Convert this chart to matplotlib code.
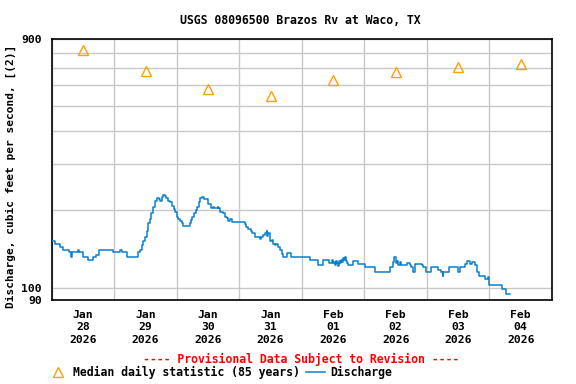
import matplotlib
matplotlib.use("Agg")
import matplotlib.pyplot as plt
from matplotlib.lines import Line2D
import numpy as np

# Discharge (hours since 2026-01-28 00:00, cfs) - step series
hours = [0, 1.25, 3.25, 4.5, 6.75, 7.5, 7.75, 10.25, 10.5, 12.0, 14.0, 15.75, 17.0, 18.0,
         23.5, 26.25, 27.0, 29.0, 33.0, 33.75, 34.5, 35.0, 35.75, 36.5, 37.0, 37.75, 38.25,
         39.0, 39.5, 40.25, 41.0, 41.5, 42.25, 42.75, 43.5, 44.0, 44.75, 45.5, 46.0, 46.75,
         47.25, 48.0, 48.5, 49.25, 50.0, 50.5, 53.0, 53.5, 54.0, 54.5, 55.25, 55.75, 56.5,
         57.0, 57.5, 58.0, 58.5, 60.0, 61.0, 62.0, 62.25, 63.75, 64.0, 64.5, 65.75, 66.5,
         67.25, 67.75, 68.5, 69.0, 71.0, 74.25, 74.75, 75.5, 76.5, 77.0, 78.0, 80.0, 80.5,
         81.25, 81.75, 82.5, 82.75, 83.0, 83.75, 84.5, 85.0, 85.75, 86.25, 87.0, 87.5, 88.25,
         88.75, 90.25, 91.75, 99.0, 102.25, 104.0, 106.5, 107.5, 108.0, 108.5, 108.75, 109.25,
         109.5, 110.0, 110.25, 110.75, 111.0, 111.5, 111.75, 112.25, 112.5, 113.0, 113.5,
         113.75, 115.75, 117.5, 120.25, 124.0, 129.75, 131.0, 131.5, 132.0, 132.5, 133.0,
         133.5, 134.0, 136.25, 137.5, 138.0, 138.75, 139.5, 142.0, 142.5, 143.5, 145.5, 148.25,
         149.25, 150.0, 150.25, 152.5, 156.0, 156.75, 158.5, 159.5, 160.5, 161.25, 162.5,
         163.25, 164.0, 166.25, 167.5, 168.0, 172.75, 174.25, 176.0]
discharge = [152, 148, 144, 140, 137, 131, 137, 140, 137, 132, 128, 131, 134, 140,
             137, 140, 137, 131, 137, 140, 146, 151, 157, 165, 177, 184, 194,
             205, 216, 221, 219, 216, 224, 228, 226, 221, 216, 213, 207, 201,
             196, 188, 184, 181, 178, 173, 177, 182, 188, 194, 199, 205, 214,
             221, 223, 223, 220, 211, 202, 205, 202, 205, 202, 195, 194, 188,
             185, 181, 184, 180, 179, 176, 172, 168, 166, 162, 157, 154, 157,
             160, 163, 165, 158, 162, 151, 153, 148, 146, 148, 144, 140, 135,
             131, 136, 131, 128, 123, 128, 124.5, 128, 124.5, 126, 123, 127,
             124.5, 121.5, 127, 124.5, 128, 126, 130, 128, 131, 127, 124.5,
             123, 127.4, 123.5, 120, 115, 120, 126, 131, 124.5, 127, 123,
             126, 122.5, 124.5, 122.5, 120, 115, 123.5, 122.5, 120, 115, 120, 117,
             115, 111, 115, 120, 115, 120, 123.5, 127.4, 123.5, 126, 122.5,
             115, 111.3, 108, 110.6, 102.8, 99.2, 95, 95]

# Median daily statistic (85 years), one per day at noon
median_days = [0.5, 1.5, 2.5, 3.5, 4.5, 5.5, 6.5, 7.5]
median_cfs = [822, 683, 578, 544, 626, 672, 703, 722]

day_labels = ["Jan\n28\n2026", "Jan\n29\n2026", "Jan\n30\n2026", "Jan\n31\n2026",
              "Feb\n01\n2026", "Feb\n02\n2026", "Feb\n03\n2026", "Feb\n04\n2026"]
ytick_vals = [90, 100, 200, 300, 400, 500, 600, 700, 800, 900]
ytick_labels = ["90", "100", "", "", "", "", "", "", "", "900"]

FONT = "DejaVu Sans Mono"
plt.rcParams["font.family"] = [FONT]
plt.rcParams["font.weight"] = "bold"

fig = plt.figure(figsize=(5.76, 3.84), dpi=100)
ax = fig.add_axes([0.0898, 0.2188, 0.9583 - 0.0898, 0.8977 - 0.2188])

days = np.array(hours) / 24.0
ax.plot(days, discharge, drawstyle="steps-post", color="#0a7fd0", lw=1.1, zorder=3)
ax.plot(median_days, median_cfs, linestyle="none", marker="^", ms=7.5,
        mfc="none", mec="#ffa000", mew=1.0, zorder=4)

ax.set_yscale("log")
ax.set_ylim(90, 900)
ax.set_xlim(0, 8)
ax.set_yticks(ytick_vals)
ax.set_yticklabels(ytick_labels)
ax.yaxis.set_minor_locator(matplotlib.ticker.NullLocator())
ax.set_xticks(np.arange(0, 9))
ax.set_xticklabels([])
ax.set_xticks(median_days, minor=True)
ax.set_xticklabels(day_labels, minor=True)
ax.tick_params(axis="both", which="both", length=0)
ax.tick_params(axis="x", which="minor", pad=7, labelsize=8.2)
ax.tick_params(axis="y", which="major", pad=7, labelsize=8.2)
for lab in ax.get_xticklabels(minor=True):
    lab.set_linespacing(1.3)
    lab.set_fontweight("bold")
for lab in ax.get_yticklabels():
    lab.set_fontweight("bold")

ax.grid(True, which="major", color="#c8c8c8", lw=1.0, zorder=0)
for s in ax.spines.values():
    s.set_linewidth(1.2)
    s.set_color("black")

fig.text(11 / 576, 1 - 176 / 384, "Discharge, cubic feet per second, [(2)]",
         rotation=90, ha="center", va="center", fontsize=8.0, fontweight="bold")
fig.text(0.522, 1 - 20.5 / 384, "USGS 08096500 Brazos Rv at Waco, TX",
         ha="center", va="center", fontsize=8.3, fontweight="bold")
fig.text(0.522, 1 - 359 / 384, "---- Provisional Data Subject to Revision ----",
         ha="center", va="center", fontsize=8.3, fontweight="bold", color="#ff0000")

handles = [Line2D([], [], linestyle="none", marker="^", ms=7.5, mfc="none",
                  mec="#ffa000", mew=1.0),
           Line2D([], [], color="#0a7fd0", lw=1.1)]
fig.legend(handles, ["Median daily statistic (85 years)", "Discharge"],
           loc="center left", bbox_to_anchor=(0.075, 1 - 372.5 / 384), ncol=2,
           frameon=False, handlelength=1.6, handletextpad=0.45, columnspacing=0.6,
           borderpad=0, prop={"family": FONT, "weight": "bold", "size": 8.3})

fig.savefig("out.png", dpi=100)
